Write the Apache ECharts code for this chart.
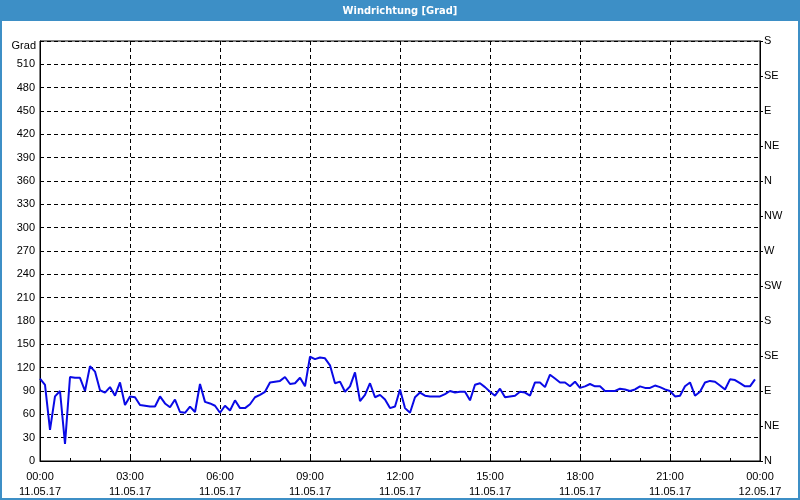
<!DOCTYPE html>
<html><head><meta charset="utf-8">
<script src="https://cdn.jsdelivr.net/npm/echarts@6/dist/echarts.min.js"></script>
<style>html,body{margin:0;padding:0;background:#fff}#c{width:800px;height:500px}</style>
</head><body><div id="c"></div>
<script>
const chartTitle = 'Windrichtung [Grad]';
const yAxisName = 'Grad';
// minutes after 11.05.17 00:00
const minutes = [0,10,20,30,40,50,60,70,80,90,100,110,120,130,140,150,160,170,180,190,200,210,220,230,240,250,260,270,280,290,300,310,320,330,340,350,360,370,380,390,400,410,420,430,440,450,460,470,480,490,500,510,520,530,540,550,560,570,580,590,600,610,620,630,640,650,660,670,680,690,700,710,720,730,740,750,760,770,780,790,800,810,820,830,840,850,860,870,880,890,900,910,920,930,940,950,960,970,980,990,1000,1010,1020,1030,1040,1050,1060,1070,1080,1090,1100,1110,1120,1130,1140,1150,1160,1170,1180,1190,1200,1210,1220,1230,1240,1250,1260,1270,1280,1290,1300,1310,1320,1330,1340,1350,1360,1370,1380,1390,1400,1410,1420,1430];
const direction = [106,98,40,83,90,22,108,107,107,90,
122,115,91,88,95,84,101,72,83,82,
72,71,70,70,83,74,69,79,63,62,
70,63,99,76,74,71,62,71,65,78,
68,68,73,82,85,89,101,102,103,108,
99,100,107,96,134,131,133,132,123,100,
102,89,96,114,77,85,100,82,85,79,
68,70,92,68,62,82,88,84,83,83,
83,86,90,88,89,89,78,98,100,95,
89,84,93,82,83,84,89,88,84,101,
101,95,111,106,101,101,96,102,94,96,
99,96,96,90,90,90,93,92,90,92,
96,94,94,97,95,92,90,83,84,96,
101,84,89,101,103,102,97,92,105,104,
100,96,96,105];
const xTickTimes = ['00:00','03:00','06:00','09:00','12:00','15:00','18:00','21:00','00:00'];
const xTickDates = ['11.05.17','11.05.17','11.05.17','11.05.17','11.05.17','11.05.17','11.05.17','11.05.17','12.05.17'];
const compassLabels = ['N','NE','E','SE','S','SW','W','NW','N','NE','E','SE','S'];

const FONT = "'Liberation Sans', Arial, sans-serif";
const chart = echarts.init(document.getElementById('c'), null, {renderer:'canvas'});
chart.setOption({
  backgroundColor: '#ffffff',
  animation: false,
  grid: {left: 40, right: 40, top: 41, bottom: 39, show: true, borderColor: '#000', borderWidth: 1, containLabel: false},
  graphic: [
    {type:'rect', shape:{x:0,y:0,width:800,height:21}, style:{fill:'#3d8fc6'}, z:10},
    {type:'rect', shape:{x:1,y:1,width:798,height:498}, style:{fill:null, stroke:'#3d8fc6', lineWidth:2}, z:10},
    {type:'text', x:400, y:11, style:{text: chartTitle, fill:'#ffffff', font:"bold 11px 'Liberation Sans Narrow', 'DejaVu Sans Condensed', sans-serif", textAlign:'center', textVerticalAlign:'middle'}, z:11},
    {type:'text', x:36, y:46, style:{text: yAxisName, fill:'#000', font:"11px " + FONT, textAlign:'right', textVerticalAlign:'middle'}, z:11}
  ],
  xAxis: {
    type: 'value', min: 0, max: 1440, interval: 180,
    axisLine: {show: true, lineStyle: {color: '#000'}},
    axisTick: {show: true, inside: true, length: 4, lineStyle: {color: '#000'}},
    minorTick: {show: true, splitNumber: 3, length: 3, lineStyle: {color: '#000'}},
    splitLine: {show: true, lineStyle: {color: '#000', type: [4,3], width: 1}},
    axisLabel: {
      show: true, color: '#000', fontFamily: FONT, fontSize: 11, lineHeight: 15, margin: 8,
      showMinLabel: true, showMaxLabel: true,
      formatter: function (v) { const i = Math.round(v / 180); return xTickTimes[i] + '\n' + xTickDates[i]; }
    }
  },
  yAxis: [
    {
      type: 'value', min: 0, max: 540, interval: 30, position: 'left',
      axisLine: {show: true, lineStyle: {color: '#000'}},
      axisTick: {show: false},
      splitLine: {show: true, lineStyle: {color: '#000', type: [4,3], width: 1}},
      axisLabel: {color: '#000', fontFamily: FONT, fontSize: 11, margin: 5,
        formatter: function (v) { return v >= 540 ? '' : String(v); }}
    },
    {
      type: 'value', min: 0, max: 540, interval: 45, position: 'right',
      axisLine: {show: true, lineStyle: {color: '#000'}},
      axisTick: {show: true, inside: false, length: 3, lineStyle: {color: '#000'}},
      splitLine: {show: false},
      axisLabel: {color: '#000', fontFamily: FONT, fontSize: 11, margin: 4, padding: [3,0,0,0],
        formatter: function (v) { return compassLabels[Math.round(v / 45)]; }}
    }
  ],
  series: [{
    type: 'line', yAxisIndex: 0, showSymbol: false, symbol: 'none',
    lineStyle: {color: '#0a0ae6', width: 2},
    data: minutes.map((m, i) => [m, direction[i]])
  }]
});
</script></body></html>
